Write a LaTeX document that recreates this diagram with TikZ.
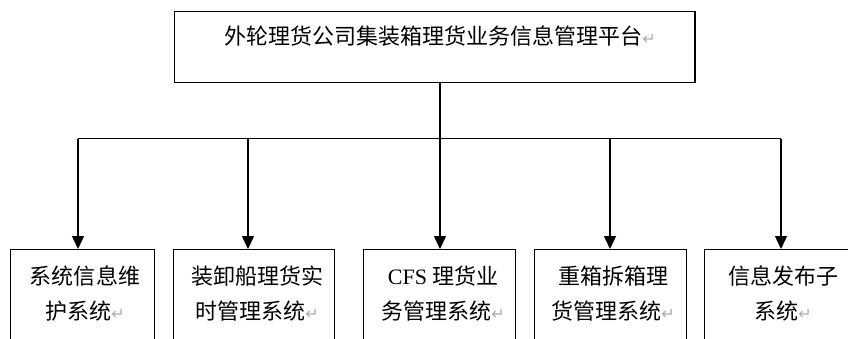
\documentclass[tikz,border=0pt]{standalone}
\usepackage{fontspec}
\usetikzlibrary{arrows.meta}
\newfontfamily\cjk{Noto Sans CJK SC}
\newfontfamily\lat{Liberation Serif}
\newfontfamily\symf{DejaVu Sans}
\newcommand{\ret}{{\symf\fontsize{16bp}{16bp}\selectfont\color{gray!65}\raisebox{0.5bp}{↵}}}
\tikzset{
  box/.style={draw=black, line width=1.4bp, rectangle, inner sep=0pt},
  lbl/.style={font=\cjk\fontsize{22bp}{35bp}\selectfont, align=center, inner sep=0pt, anchor=base},
  conn/.style={draw=black, line width=1.4bp},
  arr/.style={conn, -{Triangle[width=12bp,length=13bp]}, shorten >=0pt}
}
\begin{document}
\begin{tikzpicture}[x=1bp, y=-1bp]
\useasboundingbox (0,0) rectangle (848,338);
\clip (0,0) rectangle (848,338);
% top box
\node[box, minimum width=520.5bp, minimum height=71bp] (top) at (434.75,47) {};
\node[lbl] (toptext) at (440,44.5) {外轮理货公司集装箱理货业务信息管理平台\ret};
% bottom boxes
\node[box, anchor=north west, minimum width=144bp, minimum height=130bp] (b1) at (10,249) {};
\node[box, anchor=north west, minimum width=161bp, minimum height=130bp] (b2) at (173,249) {};
\node[box, anchor=north west, minimum width=152bp, minimum height=130bp] (b3) at (363,249) {};
\node[box, anchor=north west, minimum width=152bp, minimum height=130bp] (b4) at (534,249) {};
\node[box, anchor=north west, minimum width=160bp, minimum height=130bp] (b5) at (704,249) {};
% texts (base anchor = baseline of last line)
\node[lbl] (t1) at (85,319.5) {系统信息维\\ 护系统\ret};
\node[lbl] (t2) at (257,319.5) {装卸船理货实\\ 时管理系统\ret};
\node[lbl] (t3) at (443,319.5) {{\lat CFS} 理货业\\ 务管理系统\ret};
\node[lbl] (t4) at (613,319.5) {重箱拆箱理\\ 货管理系统\ret};
\node[lbl] (t5) at (783,319.5) {信息发布子\\ 系统\ret};
% connectors
\coordinate (j) at (440,138.7);
\coordinate (h1) at (78,138.7);
\coordinate (h2) at (248,138.7);
\coordinate (h4) at (610,138.7);
\coordinate (h5) at (781,138.7);
\draw[conn] (top.south -| j) -- (j);
\draw[conn] (h1) -- (h5);
\draw[arr] (h1) -- (h1 |- b1.north);
\draw[arr] (h2) -- (h2 |- b2.north);
\draw[arr] (j) -- (j |- b3.north);
\draw[arr] (h4) -- (h4 |- b4.north);
\draw[arr] (h5) -- (h5 |- b5.north);
\end{tikzpicture}
\end{document}
